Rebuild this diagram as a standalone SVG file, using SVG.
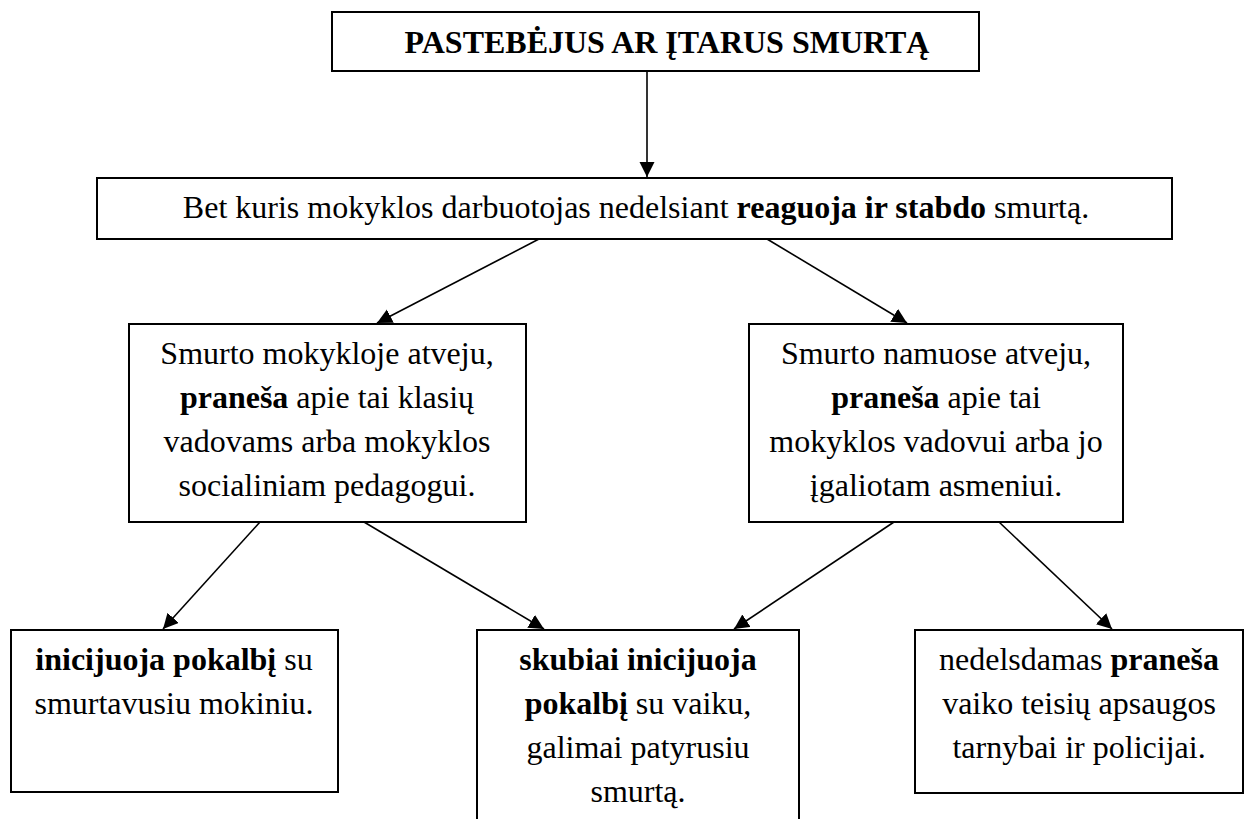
<svg xmlns="http://www.w3.org/2000/svg" width="1248" height="819" viewBox="0 0 1248 819">
<style>
.box{fill:#fff;stroke:#000;stroke-width:2}
.t{font-family:"Liberation Serif","Times New Roman",serif;font-size:32px;fill:#000;text-anchor:middle}
.b{font-weight:bold}
.c{stroke:#000;stroke-width:1.6;fill:none;marker-end:url(#ah)}
</style>
<defs>
<marker id="ah" markerUnits="userSpaceOnUse" markerWidth="16" markerHeight="16" refX="15" refY="7.5" orient="auto">
<path d="M0,0 L15,7.5 L0,15 z" fill="#000"/>
</marker>
</defs>
<rect width="1248" height="819" fill="#fff"/>
<g id="n-top">
<rect class="box" x="332" y="12" width="647" height="59"/>
<text class="t b" x="667" y="53">PASTEBĖJUS AR ĮTARUS SMURTĄ</text>
</g>
<g id="n-react">
<rect class="box" x="97" y="178" width="1075" height="61"/>
<text class="t" x="636" y="218">Bet kuris mokyklos darbuotojas nedelsiant <tspan class="b">reaguoja ir stabdo</tspan> smurtą.</text>
</g>
<g id="n-school">
<rect class="box" x="129" y="324" width="397" height="198"/>
<text class="t" x="327" y="364">Smurto mokykloje atveju,</text>
<text class="t" x="327" y="408"><tspan class="b">praneša</tspan> apie tai klasių</text>
<text class="t" x="327" y="452">vadovams arba mokyklos</text>
<text class="t" x="327" y="496">socialiniam pedagogui.</text>
</g>
<g id="n-home">
<rect class="box" x="749" y="324" width="374" height="198"/>
<text class="t" x="936" y="364">Smurto namuose atveju,</text>
<text class="t" x="936" y="408"><tspan class="b">praneša</tspan> apie tai</text>
<text class="t" x="936" y="452">mokyklos vadovui arba jo</text>
<text class="t" x="936" y="496">įgaliotam asmeniui.</text>
</g>
<g id="n-talk-aggressor">
<rect class="box" x="11" y="630" width="327" height="162"/>
<text class="t" x="174" y="670"><tspan class="b">inicijuoja pokalbį</tspan> su</text>
<text class="t" x="174" y="714">smurtavusiu mokiniu.</text>
</g>
<g id="n-talk-child">
<rect class="box" x="477" y="630" width="322" height="200"/>
<text class="t" x="638" y="670"><tspan class="b">skubiai inicijuoja</tspan></text>
<text class="t" x="638" y="714"><tspan class="b">pokalbį</tspan> su vaiku,</text>
<text class="t" x="638" y="758">galimai patyrusiu</text>
<text class="t" x="638" y="802">smurtą.</text>
</g>
<g id="n-report">
<rect class="box" x="915" y="630" width="328" height="163"/>
<text class="t" x="1079" y="670">nedelsdamas <tspan class="b">praneša</tspan></text>
<text class="t" x="1079" y="714">vaiko teisių apsaugos</text>
<text class="t" x="1079" y="758">tarnybai ir policijai.</text>
</g>
<g id="connectors">
<line class="c" x1="647" y1="72" x2="647" y2="177"/>
<line class="c" x1="539" y1="239" x2="377" y2="323"/>
<line class="c" x1="767" y1="239" x2="907" y2="323"/>
<line class="c" x1="260" y1="522" x2="163" y2="629"/>
<line class="c" x1="364" y1="522" x2="544" y2="629"/>
<line class="c" x1="894" y1="522" x2="734" y2="629"/>
<line class="c" x1="999" y1="522" x2="1112" y2="629"/>
</g>
</svg>
